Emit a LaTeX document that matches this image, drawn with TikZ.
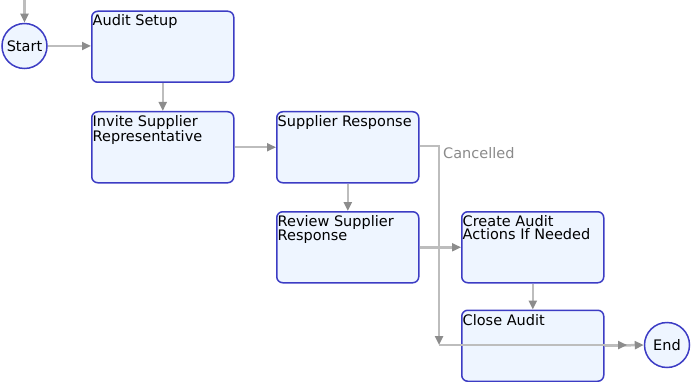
\documentclass[tikz,border=0pt]{standalone}
\usepackage{fontspec}
\setmainfont{DejaVu Sans}
\usetikzlibrary{arrows.meta}
\definecolor{boxborder}{HTML}{3C3CC4}
\definecolor{boxfill}{HTML}{EEF5FF}
\definecolor{linegray}{HTML}{BDBDBD}
\definecolor{tipgray}{HTML}{8C8C8C}
\definecolor{labelgray}{HTML}{8A8A8A}
\tikzset{
  statebox/.style={draw=boxborder, fill=boxfill, line width=1.5pt, rounded corners=6pt,
    minimum width=142pt, minimum height=71pt, anchor=north west, inner sep=0pt},
  boxtext/.style={anchor=north west, inner sep=0pt, align=left, font=\fontsize{14.5}{13.5}\selectfont},
  termcircle/.style={circle, draw=boxborder, fill=boxfill, line width=1.5pt,
    minimum size=45pt, inner sep=0pt, font=\fontsize{14.5}{14}\selectfont},
  flow/.style={draw=linegray, line width=2.5pt, -{Triangle[length=9pt,width=8pt,color=tipgray]}},
  flowlabel/.style={text=labelgray, font=\fontsize{14.5}{14}\selectfont, anchor=west, inner sep=0pt}
}
\begin{document}
\begin{tikzpicture}[x=1pt,y=-1pt]
\useasboundingbox (0,0) rectangle (692,382);
% nodes
\node[termcircle] (start) at (24.5,46) {Start};
\node[statebox] (audit) at (91,10.5) {};
\node[boxtext] (auditT) at (92.5,14) {Audit Setup};
\node[statebox] (invite) at (91,111) {};
\node[boxtext] (inviteT) at (92.5,115) {Invite Supplier\\Representative};
\node[statebox] (resp) at (276,111) {};
\node[boxtext] (respT) at (277.5,115) {Supplier Response};
\node[statebox] (review) at (276,211) {};
\node[boxtext] (reviewT) at (277.5,215) {Review Supplier\\Response};
\node[statebox] (create) at (461,211) {};
\node[boxtext] (createT) at (462.5,215) {Create Audit\\Actions If Needed};
\node[termcircle] (end) at (667,345) {End};
% coordinates
\coordinate (entry) at (24.5,0);
\coordinate (cturn) at (439,146);
\coordinate (cdown) at (439,345);
\coordinate (cend) at (627,345);
% connectors
\draw[flow] (entry) -- (start);
\draw[flow] (start) -- (start -| audit.west);
\draw[flow] (audit) -- (invite);
\draw[flow] (invite) -- (resp);
\draw[flow] (resp) -- (review);
\draw[flow] (review) -- (create);
\draw[flow] (resp.east |- cturn) -- (cturn) -- (cdown);
\node[flowlabel] (cancelT) at (443,153) {Cancelled};
\node[statebox] (close) at (461,309.5) {};
\node[boxtext] (closeT) at (462.5,314) {Close Audit};
\draw[flow] (create) -- (close);
\draw[flow] (close.east) -- (end.west);
\draw[flow] (cdown) -- (cend);
\end{tikzpicture}
\end{document}
